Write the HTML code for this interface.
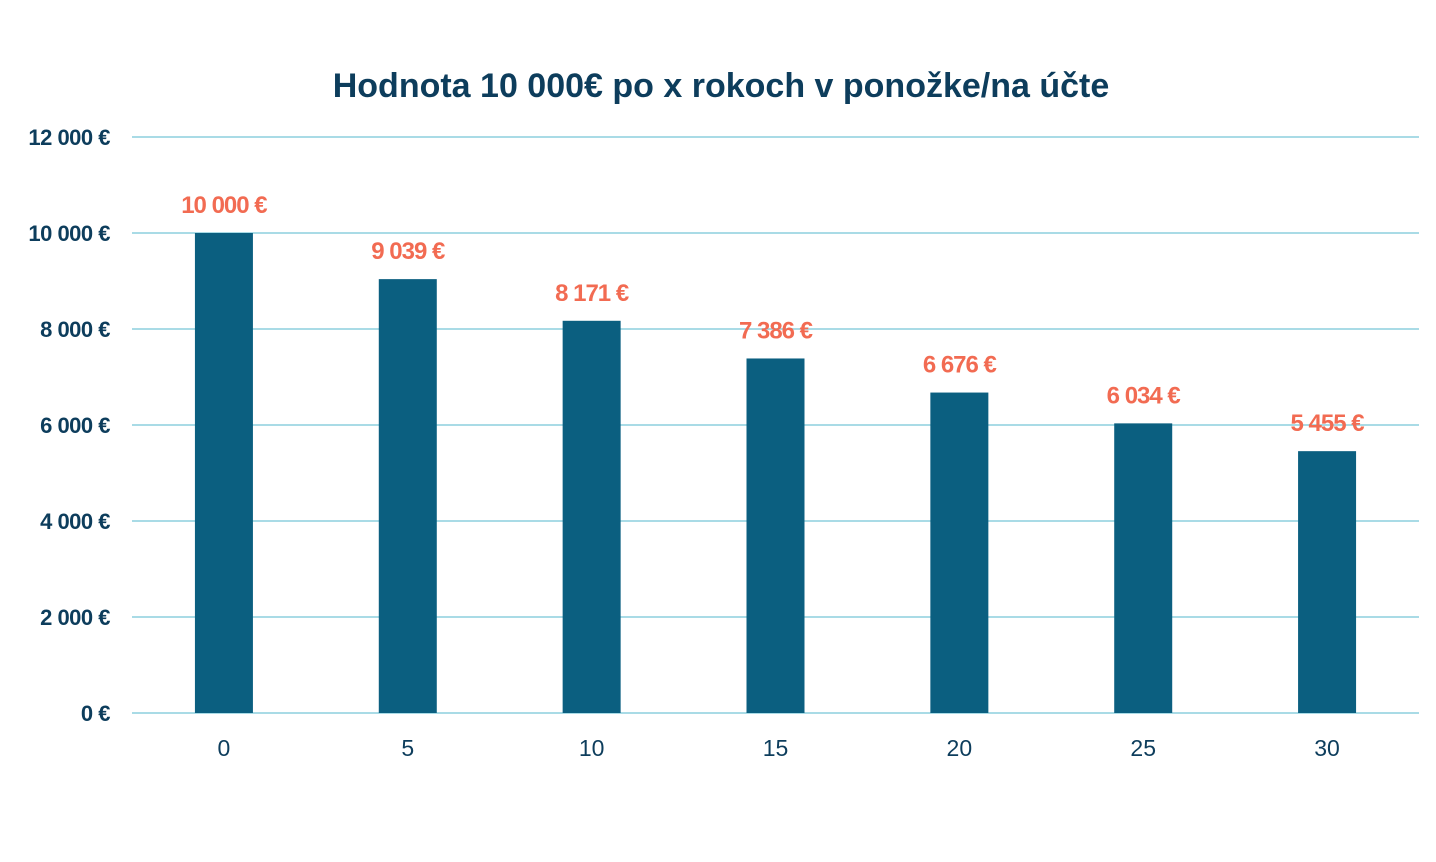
<!DOCTYPE html>
<html><head><meta charset="utf-8"><style>
html,body{margin:0;padding:0;background:#fff;width:1436px;height:862px;overflow:hidden}
svg text{font-family:"Liberation Sans",sans-serif}
</style></head><body>
<svg id="chart" width="1436" height="862" xmlns="http://www.w3.org/2000/svg">
<text x="721" y="97" text-anchor="middle" font-size="34" font-weight="bold" fill="#0d3d5c">Hodnota 10 000€ po x rokoch v ponožke/na účte</text>
<g id="grid"></g><g id="bars"></g>
</svg>
<script>
const categories=["0","5","10","15","20","25","30"];
const values=[10000,9039,8171,7386,6676,6034,5455];
const valueLabels=["10 000 €","9 039 €","8 171 €","7 386 €","6 676 €","6 034 €","5 455 €"];
const yTicks=[0,2000,4000,6000,8000,10000,12000];
const yTickLabels=["0 €","2 000 €","4 000 €","6 000 €","8 000 €","10 000 €","12 000 €"];
const NS="http://www.w3.org/2000/svg";
const x0=132,x1=1419,yBase=713,yTop=137,yMax=12000;
const band=(x1-x0)/categories.length;
const xc=i=>x0+band*(i+0.5);
const y=v=>yBase-(v/yMax)*(yBase-yTop);
const grid=document.getElementById('grid'),bars=document.getElementById('bars');
function mk(t,a){const e=document.createElementNS(NS,t);for(const k in a)e.setAttribute(k,a[k]);return e;}
yTicks.forEach((t,i)=>{
 const l=mk('line',{x1:x0,x2:x1,y1:y(t),y2:y(t),stroke:'#a9dbe6','stroke-width':2});
 
 
 grid.appendChild(l);
 const tx=mk('text',{x:110,y:y(t)+8,'text-anchor':'end','font-size':22,'font-weight':'bold',fill:'#0d3d5c','letter-spacing':'-0.5'});
 tx.textContent=yTickLabels[i];
 
 
 grid.appendChild(tx);
});
categories.forEach((c,i)=>{
 const w=58,cx=xc(i);
 const r=mk('rect',{x:cx-w/2,y:y(values[i]),width:w,height:yBase-y(values[i]),fill:'#0b5f80'});
 
 
 bars.appendChild(r);
 const lb=mk('text',{x:cx,y:y(values[i])-20,'text-anchor':'middle','font-size':24,'font-weight':'bold',fill:'#f26b52','letter-spacing':'-1'});
 lb.textContent=valueLabels[i];
 
 
 bars.appendChild(lb);
 const xl=mk('text',{x:cx,y:756,'text-anchor':'middle','font-size':23,fill:'#0d3d5c'});
 xl.textContent=c;
 
 
 bars.appendChild(xl);
});
</script>
</body></html>
